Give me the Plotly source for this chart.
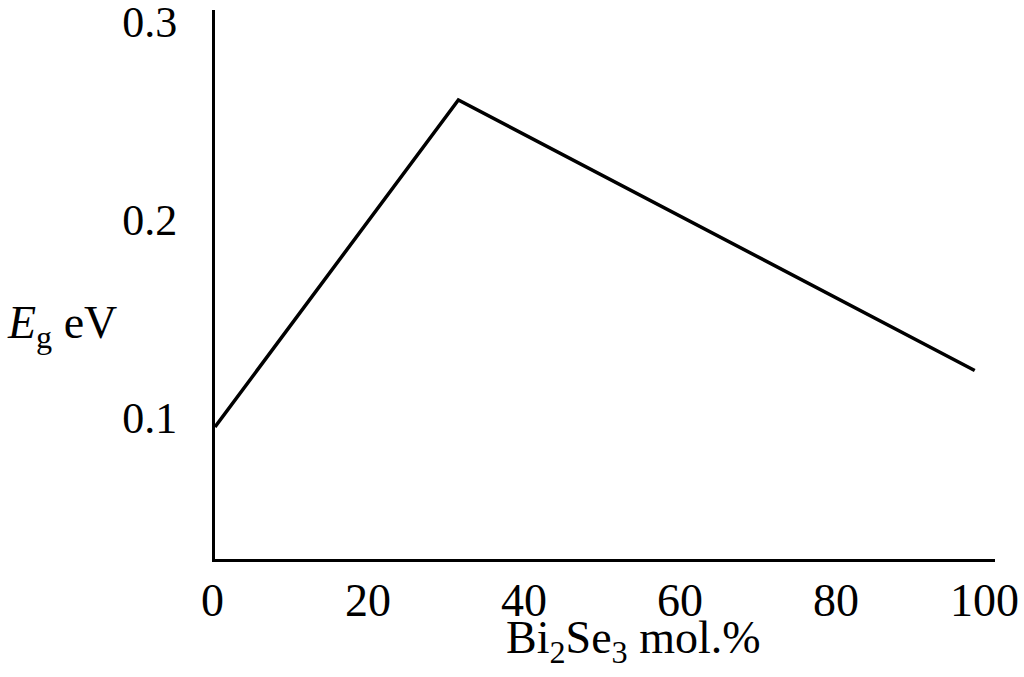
import plotly.graph_objects as go

# Data
bi2se3_mol_pct = [0, 31.2, 97.4]
eg_ev = [0.0955, 0.2606, 0.124]

x_tick_vals = [0, 20, 40, 60, 80, 100]
x_tick_text = ["0", "20", "40", "60", "80", "100"]
y_tick_vals = [0.1, 0.2, 0.3]
y_tick_text = ["0.1", "0.2", "0.3"]

FONT = "Liberation Serif, Times New Roman, serif"

fig = go.Figure()
fig.add_trace(go.Scatter(
    x=bi2se3_mol_pct, y=eg_ev, mode="lines",
    line=dict(color="black", width=3.5),
    showlegend=False, hoverinfo="skip",
))

annotations = []
# x tick labels as annotations positioned on the x scale (last one nudged inside the page)
for i, (v, t) in enumerate(zip(x_tick_vals, x_tick_text)):
    annotations.append(dict(
        text=t, x=v, xref="x", y=0, yref="paper", yanchor="top",
        xanchor="center", yshift=-14, xshift=(-11 if i == len(x_tick_vals) - 1 else -3),
        showarrow=False, font=dict(family=FONT, size=46, color="black"),
    ))

annotations += [
    dict(text="Bi<sub>2</sub>Se<sub>3</sub> mol.%", xref="paper", yref="paper",
         x=0.536, y=-0.15, xanchor="center", yanchor="middle",
         showarrow=False, font=dict(family=FONT, size=46, color="black")),
    dict(text="<i>E</i><sub>g</sub> eV", xref="paper", yref="paper",
         x=-0.196, y=0.425, xanchor="center", yanchor="middle",
         showarrow=False, font=dict(family=FONT, size=46, color="black")),
]

fig.update_layout(
    width=1024, height=677,
    margin=dict(l=215, r=29, t=10, b=118),
    paper_bgcolor="white", plot_bgcolor="white",
    font=dict(family=FONT, color="black", size=46),
    xaxis=dict(
        range=[0, 100], tickvals=x_tick_vals, showticklabels=False,
        showgrid=False, zeroline=False, showline=True, automargin=False,
        linecolor="black", linewidth=3, ticks="",
    ),
    yaxis=dict(
        range=[0.0288, 0.306], tickvals=y_tick_vals, ticktext=y_tick_text,
        showgrid=False, zeroline=False, showline=True, automargin=False,
        linecolor="black", linewidth=3, ticks="",
        ticklabelstandoff=26, ticklabeloverflow="allow",
        tickfont=dict(family=FONT, size=44, color="black"),
    ),
    annotations=annotations,
)

fig.write_html("out.html", config={"displayModeBar": False},
               post_script="document.body.style.margin='0';document.body.style.overflow='hidden';")
